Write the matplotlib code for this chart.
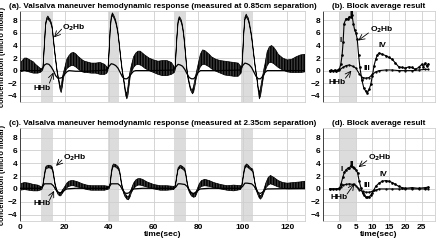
import numpy as np
import matplotlib
matplotlib.use('Agg')
import matplotlib.pyplot as plt

plt.rcParams['font.family'] = ['Liberation Sans', 'DejaVu Sans']
plt.rcParams['font.weight'] = 'bold'

# ---------------- data ----------------
# Valsalva blocks (sec)
blocks = [(9.5, 14.8), (39.5, 44.6), (69.3, 74.6), (99.3, 104.6)]
block_avg = (0.0, 5.0)

# (a) 0.85 cm: O2Hb oscillation envelope (upper / lower)
t_a = [0, 1, 2, 3, 4, 5, 6, 7, 8, 9, 9.8,
       10.3, 11, 11.5, 12, 12.5, 13, 13.5, 14, 14.5, 15, 15.5, 16, 16.5, 17, 17.5, 18, 18.5, 19, 19.5, 20,
       21, 22, 23, 24, 25, 26, 27, 28, 29, 30, 32, 34, 36, 38, 39,
       39.5, 40, 40.5, 41, 41.5, 42, 42.5, 43, 43.5, 44, 44.5, 45, 45.5, 46, 46.5, 47, 47.5, 48, 48.5, 49, 49.5, 50,
       51, 52, 53, 54, 55, 56, 58, 60, 62, 64, 66, 68, 69.3,
       69.7, 70, 70.5, 71, 71.5, 72, 72.5, 73, 73.5, 74, 74.5, 75, 75.5, 76, 76.5, 77, 77.5, 78, 78.5, 79, 79.5, 80,
       81, 82, 83, 84, 85, 86, 88, 90, 92, 94, 96, 98, 99.3,
       99.6, 100, 100.5, 101, 101.6, 102, 102.5, 103, 103.5, 104, 104.5, 105, 105.5, 106, 106.5, 107, 107.5, 108,
       108.5, 109, 109.5, 110,
       111, 112, 113, 114, 115, 116, 118, 120, 122, 124, 126, 128]
o2_hi_a = [1.2, 1.6, 2.0, 2.0, 1.8, 1.6, 1.4, 1.0, 0.7, 0.4, 0.3,
           0.4, 4.6, 7.6, 8.4, 8.7, 8.4, 8.2, 7.7, 7.0, 5.2, 3.5, 2.0, 0.5, -0.6, -1.5, -2.4, -2.5, -1.2, -0.3, 0.3,
           1.8, 2.4, 2.8, 2.9, 2.7, 2.3, 2.0, 1.7, 1.5, 1.4, 1.2, 1.2, 1.3, 1.0, 0.6,
           0.3, 3.2, 6.7, 8.7, 9.2, 8.9, 8.5, 8.0, 7.2, 6.2, 4.7, 3.0, 1.4, 0.0, -1.1, -2.2, -3.4, -3.5, -2.5, -1.0, 0.0, 0.8,
           2.2, 2.8, 3.1, 3.1, 2.8, 2.5, 2.0, 1.7, 1.5, 1.6, 1.6, 1.3, 0.6,
           0.4, 2.7, 5.7, 8.0, 8.6, 8.4, 8.0, 7.2, 6.0, 4.2, 2.2, 0.2, -1.0, -1.8, -2.6, -3.0, -3.0, -2.4, -1.5, -0.6, 0.2, 1.0,
           2.6, 3.3, 3.2, 2.9, 2.6, 2.2, 1.8, 1.6, 1.5, 1.4, 1.3, 1.2, 0.6,
           0.4, 2.7, 6.2, 8.5, 9.0, 8.7, 8.4, 7.7, 6.7, 5.7, 4.2, 2.7, 1.2, -0.1, -1.3, -2.7, -3.5, -2.8,
           -1.8, -0.8, 0.2, 1.0,
           3.0, 3.8, 4.0, 3.7, 3.2, 2.6, 2.0, 1.7, 1.8, 2.2, 2.5, 2.6]
o2_lo_a = [-0.2, -0.1, 0.0, -0.1, -0.2, -0.3, -0.4, -0.4, -0.4, -0.3, -0.1,
           0.2, 4.2, 7.2, 8.0, 8.3, 8.0, 7.8, 7.3, 6.6, 4.8, 3.1, 1.6, 0.1, -1.0, -2.0, -3.0, -3.5, -2.6, -1.3, -0.5,
           0.3, 0.6, 0.8, 0.8, 0.6, 0.3, 0.0, -0.2, -0.3, -0.3, -0.4, -0.4, -0.6, -0.6, -0.4,
           0.0, 2.8, 6.3, 8.3, 8.8, 8.5, 8.1, 7.6, 6.8, 5.8, 4.3, 2.6, 1.0, -0.4, -1.5, -2.8, -4.0, -4.5, -3.9, -2.4, -1.0, -0.3,
           0.5, 0.9, 1.0, 0.9, 0.7, 0.4, 0.0, -0.3, -0.6, -0.8, -0.8, -0.6, -0.3,
           0.1, 2.3, 5.3, 7.6, 8.2, 8.0, 7.6, 6.8, 5.6, 3.8, 1.8, -0.2, -1.4, -2.2, -3.0, -3.4, -3.7, -3.4, -2.6, -1.5, -0.8, -0.2,
           0.6, 1.0, 1.0, 0.8, 0.6, 0.3, -0.1, -0.4, -0.7, -0.8, -0.9, -0.9, -0.4,
           0.1, 2.3, 5.8, 8.1, 8.6, 8.3, 8.0, 7.3, 6.3, 5.3, 3.8, 2.3, 0.8, -0.5, -1.7, -3.2, -4.5, -4.1,
           -3.0, -1.8, -0.8, -0.2,
           0.8, 1.3, 1.3, 1.1, 0.8, 0.5, 0.1, -0.2, -0.3, -0.3, -0.3, -0.2]
t_hhb_a = [0, 5, 9, 10, 11, 12, 13, 14, 15, 16, 17, 18, 19, 20, 21, 22, 25, 30, 35,
           39, 40, 41, 42, 43, 44, 45, 46, 47, 48, 49, 50, 51, 52, 60,
           69, 70, 71, 72, 73, 74, 75, 76, 77, 78, 79, 80, 81, 90,
           99, 100, 101, 102, 103, 104, 105, 106, 107, 108, 109, 110, 111, 120, 128]
hhb_a = [0.0, 0.0, 0.0, 0.3, 0.9, 1.1, 1.0, 0.6, 0.0, -0.8, -1.2, -1.2, -1.1, -0.6, -0.2, 0.0, -0.1, -0.1, 0.0,
         0.1, 0.7, 1.1, 1.0, 0.8, 0.4, -0.3, -1.0, -1.3, -1.3, -1.0, -0.5, -0.1, 0.0, 0.0,
         0.1, 0.6, 1.0, 0.9, 0.7, 0.2, -0.5, -1.1, -1.3, -1.3, -0.9, -0.3, 0.0, 0.0,
         0.1, 0.8, 1.2, 1.1, 0.9, 0.5, -0.2, -0.9, -1.3, -1.3, -0.9, -0.3, 0.0, 0.0, 0.0]

# (c) 2.35 cm
t_c = [0, 2, 4, 6, 8, 9.8, 10.2, 11, 11.5, 12, 13, 14, 14.5, 15, 15.5, 16, 16.5, 17, 17.5, 18, 18.5, 19, 20,
       21, 22, 23, 24, 26, 28, 30, 32, 35, 38,
       40, 40.5, 41, 41.5, 42, 43, 44, 44.5, 45, 45.5, 46, 46.5, 47, 48, 48.7, 49.5, 50,
       51, 52, 53, 54, 55, 57, 60, 63, 66, 69,
       69.7, 70.5, 71, 72, 73, 74, 74.5, 75, 75.5, 76, 77, 78, 78.8, 79.5,
       80.5, 81.5, 83, 85, 87, 90, 93, 96, 99,
       99.6, 100.5, 101, 101.8, 102.5, 103.5, 104.5, 105, 105.5, 106, 106.5, 107.3, 108, 108.7, 109.5,
       110.5, 111.5, 112.5, 114, 116, 118, 120, 123, 126, 128]
o2_hi_c = [0.8, 1.0, 0.9, 0.7, 0.6, 0.3, 0.5, 2.4, 3.4, 3.6, 3.7, 3.6, 3.4, 2.6, 1.4, 0.5, -0.1, -0.4, -0.6, -0.7, -0.5, -0.2, 0.3,
           0.9, 1.2, 1.3, 1.3, 1.1, 0.8, 0.6, 0.5, 0.5, 0.5,
           0.4, 0.9, 2.6, 3.6, 3.9, 3.8, 3.5, 3.2, 2.4, 1.2, 0.3, -0.2, -0.6, -1.1, -1.2, -0.6, 0.0,
           0.9, 1.4, 1.6, 1.6, 1.5, 1.1, 0.7, 0.5, 0.5, 0.4,
           0.5, 2.3, 3.3, 3.7, 3.5, 3.2, 2.4, 1.3, 0.4, -0.1, -0.6, -0.8, -0.6, -0.1,
           0.8, 1.3, 1.5, 1.3, 1.0, 0.7, 0.5, 0.6, 0.5,
           0.6, 2.7, 3.6, 3.9, 3.7, 3.3, 3.1, 2.2, 1.1, 0.3, -0.2, -0.8, -1.1, -0.8, -0.1,
           1.0, 1.8, 2.1, 1.8, 1.3, 1.0, 0.9, 1.0, 1.1, 1.2]
o2_lo_c = [-0.2, -0.1, -0.2, -0.3, -0.3, -0.1, 0.3, 2.0, 3.0, 3.2, 3.3, 3.2, 3.0, 2.2, 1.0, 0.2, -0.4, -0.8, -1.0, -1.1, -1.0, -0.7, -0.2,
           0.2, 0.4, 0.5, 0.5, 0.3, 0.1, -0.1, -0.2, -0.2, -0.2,
           0.0, 0.6, 2.2, 3.2, 3.5, 3.4, 3.1, 2.8, 2.0, 0.8, 0.0, -0.6, -1.1, -1.6, -1.7, -1.2, -0.6,
           0.0, 0.4, 0.6, 0.6, 0.5, 0.3, 0.0, -0.2, -0.2, -0.1,
           0.2, 2.0, 3.0, 3.3, 3.1, 2.8, 2.0, 0.9, 0.1, -0.5, -1.1, -1.3, -1.2, -0.6,
           0.1, 0.4, 0.5, 0.4, 0.2, 0.0, -0.2, -0.3, -0.1,
           0.3, 2.3, 3.2, 3.5, 3.3, 3.0, 2.7, 1.8, 0.8, 0.0, -0.6, -1.3, -1.6, -1.3, -0.6,
           0.2, 0.6, 0.8, 0.6, 0.3, 0.1, 0.0, 0.0, 0.0, 0.0]
t_hhb_c = [0, 5, 9, 10, 11, 12, 14, 15, 16, 17, 18, 19, 20, 21, 25,
           39, 40, 41, 42, 44, 45, 46, 47, 48, 49, 50, 51, 55,
           69, 70, 71, 72, 74, 75, 76, 77, 78, 79, 80, 81, 85,
           99, 100, 101, 102, 104, 105, 106, 107, 108, 109, 110, 111, 128]
hhb_c = [0.1, 0.1, 0.1, 0.3, 0.8, 0.8, 0.8, 0.5, -0.1, -0.5, -0.6, -0.5, -0.2, 0.0, 0.1,
         0.1, 0.3, 0.8, 0.8, 0.8, 0.5, -0.1, -0.6, -0.7, -0.6, -0.2, 0.0, 0.1,
         0.1, 0.3, 0.8, 0.8, 0.7, 0.4, -0.2, -0.6, -0.7, -0.5, -0.2, 0.0, 0.1,
         0.1, 0.4, 0.9, 0.9, 0.8, 0.5, -0.1, -0.6, -0.7, -0.5, -0.1, 0.0, 0.1]

# (b) block average, 0.85 cm
t_b = [-3, -2.5, -2, -1.5, -1, -0.5, 0, 0.4, 0.8, 1.1, 1.4, 2, 2.5, 3, 3.5, 3.8, 4.2, 4.6, 5.0, 5.4, 5.8,
       6.2, 6.8, 7.4, 8, 8.5, 9, 9.5, 10, 10.5, 11, 11.5, 12, 13, 14, 15, 16, 17, 18, 19, 20,
       21, 22, 23, 24, 25, 25.5, 26, 26.5, 27]
o2_b = [0.0, 0.1, -0.1, 0.1, 0.0, 0.1, 0.3, 1.0, 2.5, 4.5, 7.5, 8.3, 8.2, 8.6, 8.5, 8.9, 7.5, 6.5, 6.0, 5.0, 2.5,
        0.5, -1.5, -2.8, -3.3, -3.5, -3.0, -2.2, -0.8, 0.8, 1.8, 2.5, 2.8, 2.6, 2.4, 2.1, 1.8, 1.2, 0.6, 0.5, 0.4,
        0.6, 0.5, 0.2, 0.5, 1.0, 0.6, 1.2, 0.7, 1.1]
t_hhb_b = [-3, -1, 0, 1, 2, 3, 4, 5, 6, 7, 8, 9, 10, 11, 12, 14, 16, 18, 20, 22, 24, 26, 27]
hhb_b = [0.0, 0.0, 0.1, 0.5, 0.8, 0.9, 0.7, 0.4, -0.5, -1.1, -1.2, -1.1, -0.6, -0.2, 0.0, 0.1, 0.1, 0.0, 0.0,
         0.0, 0.1, 0.2, 0.2]

# (d) block average, 2.35 cm
t_d = [-3, -2, -1, 0, 0.5, 1, 1.5, 2, 2.5, 3, 3.5, 4, 4.5, 5, 5.5, 6, 6.5, 7, 7.5, 8, 8.5, 9, 9.5, 10, 10.5,
       11, 12, 13, 14, 15, 16, 17, 18, 19, 20, 22, 24, 26, 27]
o2_d = [0.0, 0.0, 0.0, 0.1, 0.8, 1.8, 2.6, 3.0, 3.2, 3.3, 3.6, 3.4, 3.3, 3.0, 2.5, 1.2, 0.2, -0.6, -1.0, -1.3,
        -1.3, -1.2, -1.0, -0.6, -0.1, 0.4, 0.9, 1.2, 1.3, 1.2, 1.0, 0.7, 0.4, 0.2, 0.1, 0.2, 0.1, 0.2, 0.3]
t_hhb_d = [-3, 0, 0.5, 1, 2, 3, 4, 4.5, 5, 5.5, 6, 7, 8, 9, 10, 11, 12, 14, 16, 18, 20, 22, 24, 26, 27]
hhb_d = [0.0, 0.0, 0.3, 0.6, 0.7, 0.8, 0.7, 0.7, 0.5, 0.2, -0.1, -0.4, -0.5, -0.5, -0.4, -0.2, 0.0, 0.0, 0.0,
         0.0, 0.0, 0.0, 0.0, 0.0, 0.0]

yticks = [-4, -2, 0, 2, 4, 6, 8]

# ---------------- figure ----------------
W, H = 437, 241
fig = plt.figure(figsize=(W / 100, H / 100), dpi=100, facecolor='white')


def px_axes(x0, x1, y0, y1):
    return fig.add_axes([x0 / W, 1 - y1 / H, (x1 - x0) / W, (y1 - y0) / H])


ax_a = px_axes(20, 305, 11, 102)
ax_b = px_axes(323, 435, 11, 102)
ax_c = px_axes(20, 305, 128, 221)
ax_d = px_axes(323, 435, 128, 221)

fs = 6.0
tfs = 5.75
for ax in (ax_a, ax_b, ax_c, ax_d):
    ax.set_ylim(-5, 9.5)
    ax.set_yticks(yticks)
    ax.grid(True, color='#cfcfcf', linewidth=0.6)
    ax.set_axisbelow(True)
    ax.tick_params(length=0, pad=2, labelsize=fs)
    for s in ax.spines.values():
        s.set_color('#d0d0d0')
        s.set_linewidth(0.6)
    ax.spines['left'].set_color('#404040')
    ax.spines['left'].set_linewidth(0.7)

for ax in (ax_a, ax_c):
    ax.set_xlim(0, 128)
    ax.set_xticks([0, 20, 40, 60, 80, 100, 120])
    for b0, b1 in blocks:
        ax.axvspan(b0, b1, color='#dcdcdc', linewidth=0, zorder=0.5)
for ax in (ax_b, ax_d):
    ax.set_xlim(-5, 29)
    ax.set_xticks([0, 5, 10, 15, 20, 25])
    ax.axvspan(block_avg[0], block_avg[1], color='#dcdcdc', linewidth=0, zorder=0.5)
for ax in (ax_a, ax_b):
    ax.tick_params(axis='x', labelbottom=False)

# raw traces: heartbeat oscillation shown as the envelope band
for ax, t, hi, lo, th, hb in ((ax_a, t_a, o2_hi_a, o2_lo_a, t_hhb_a, hhb_a),
                              (ax_c, t_c, o2_hi_c, o2_lo_c, t_hhb_c, hhb_c)):
    ax.fill_between(t, lo, hi, facecolor='#3c3c3c', edgecolor='black', linewidth=0.5,
                    hatch='||||||', zorder=2)
    ax.plot(th, hb, color='black', linewidth=0.9, zorder=3)

for ax, t, o2, th, hb in ((ax_b, t_b, o2_b, t_hhb_b, hhb_b), (ax_d, t_d, o2_d, t_hhb_d, hhb_d)):
    ax.plot(t, o2, color='black', linewidth=0.8, marker='.', markersize=1.8, zorder=3)
    ax.plot(th, hb, color='black', linewidth=0.8, marker='.', markersize=1.2, zorder=3)

# titles and labels
ax_a.set_title('(a). Valsalva maneuver hemodynamic response (measured at 0.85cm separation)',
               fontsize=tfs, fontweight='bold', pad=2)
ax_b.set_title('(b). Block average result', fontsize=tfs, fontweight='bold', pad=2)
ax_c.set_title('(c). Valsalva maneuver hemodynamic response (measured at 2.35cm separation)',
               fontsize=tfs, fontweight='bold', pad=2)
ax_d.set_title('(d). Block average result', fontsize=tfs, fontweight='bold', pad=2)
for ax in (ax_a, ax_c):
    ax.set_ylabel('concentration (micro molar)', fontsize=5.4, fontweight='bold')
    ax.yaxis.set_label_coords(-0.048, 0.5)
for ax in (ax_c, ax_d):
    ax.set_xlabel('time(sec)', fontsize=fs, fontweight='bold', labelpad=0)

# annotations
arr = dict(arrowstyle='->', color='black', linewidth=0.6, shrinkA=0, shrinkB=0)
tk = dict(fontsize=fs, fontweight='bold', va='center')
ax_a.annotate('', xy=(15.3, 5.3), xytext=(18.7, 6.6), arrowprops=arr)
ax_a.text(19.0, 6.9, 'O$_\\mathbf{2}$Hb', **tk)
ax_a.annotate('', xy=(15.0, -0.3), xytext=(13.2, -2.0), arrowprops=arr)
ax_a.text(6.0, -2.8, 'HHb', **tk)

ax_c.annotate('', xy=(16.2, 3.6), xytext=(18.8, 4.5), arrowprops=arr)
ax_c.text(19.3, 4.9, 'O$_\\mathbf{2}$Hb', **tk)
ax_c.annotate('', xy=(15.3, -0.3), xytext=(13.2, -1.8), arrowprops=arr)
ax_c.text(6.0, -2.3, 'HHb', **tk)

ax_b.annotate('', xy=(5.7, 4.8), xytext=(8.8, 6.0), arrowprops=arr)
ax_b.text(9.3, 6.5, 'O$_\\mathbf{2}$Hb', **tk)
ax_b.annotate('', xy=(3.6, 0.0), xytext=(1.8, -1.2), arrowprops=arr)
ax_b.text(-3.4, -1.9, 'HHb', **tk)
ax_b.text(0.5, 4.8, 'I', ha='center', **tk)
ax_b.text(3.8, 9.0, 'II', ha='center', **tk)
ax_b.text(8.4, 0.4, 'III', ha='center', **tk)
ax_b.text(13.0, 4.0, 'IV', ha='center', **tk)

ax_d.annotate('', xy=(5.8, 3.4), xytext=(8.3, 4.4), arrowprops=arr)
ax_d.text(8.7, 4.8, 'O$_\\mathbf{2}$Hb', **tk)
ax_d.annotate('', xy=(4.5, 0.8), xytext=(2.3, -0.8), arrowprops=arr)
ax_d.text(-2.8, -1.4, 'HHb', **tk)
ax_d.text(0.6, 3.0, 'I', ha='center', **tk)
ax_d.text(3.8, 3.8, 'II', ha='center', **tk)
ax_d.text(8.3, 0.5, 'III', ha='center', **tk)
ax_d.text(13.2, 2.2, 'IV', ha='center', **tk)

fig.savefig('out.png', dpi=100)
